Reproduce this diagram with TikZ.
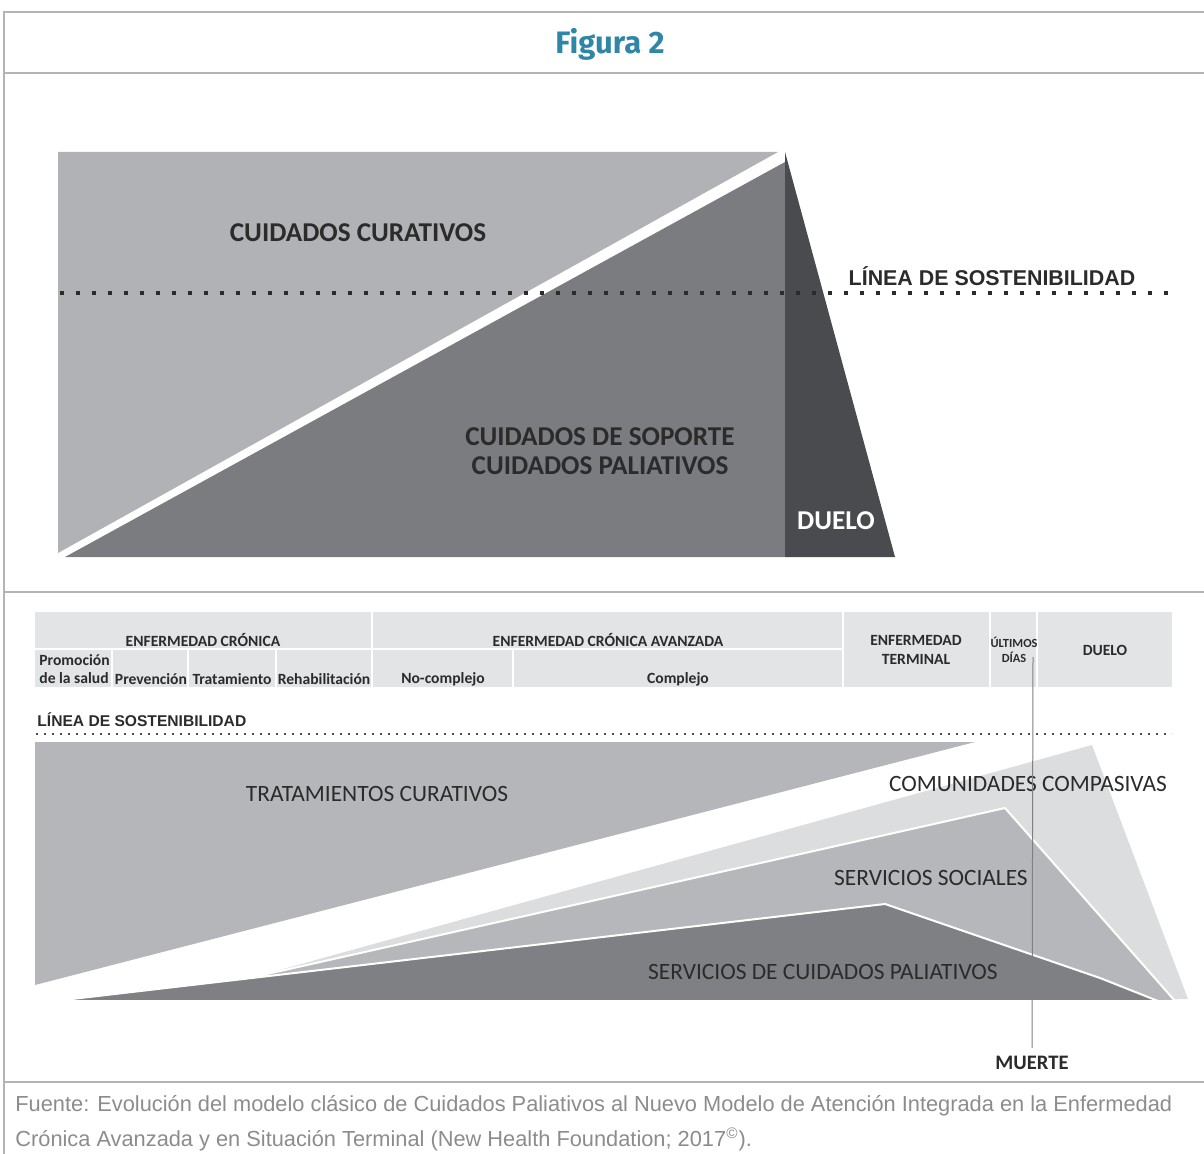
\documentclass[tikz,border=0pt]{standalone}
\usepackage{fontspec}
\setmainfont{Carlito}
\newfontfamily\arialfont{Liberation Sans}
\newfontfamily\titlefont{Fira Sans}
\usepackage{tikz}
\usetikzlibrary{positioning}

\definecolor{framegray}{HTML}{B4B4B4}
\definecolor{titleblue}{HTML}{2F86A6}
\definecolor{curlight}{HTML}{B1B2B5}
\definecolor{soporte}{HTML}{7B7C80}
\definecolor{duelodark}{HTML}{4A4B4E}
\definecolor{headgray}{HTML}{E3E4E6}
\definecolor{tratgray}{HTML}{B5B6B9}
\definecolor{comungray}{HTML}{DCDDDF}
\definecolor{socialgray}{HTML}{B6B7BA}
\definecolor{paliatgray}{HTML}{7F8084}
\definecolor{textdark}{HTML}{2B2B2B}
\definecolor{captiongray}{HTML}{8C8C8C}

\begin{document}
\begin{tikzpicture}[x=0.5pt,y=-0.5pt,
    biglbl/.style={font=\bfseries\fontsize{13.6}{15}\selectfont, text=textdark, inner sep=0pt},
    hdrlbl/.style={font=\bfseries\fontsize{7.8}{9.4}\selectfont, text=textdark, inner sep=0pt, align=center},
    bandlbl/.style={font=\fontsize{11.7}{13}\selectfont, text=textdark, inner sep=0pt},
    sostlbl/.style={font=\arialfont\bfseries, text=textdark, inner sep=0pt},
    cell/.style={white, line width=1pt}]
            \useasboundingbox (0,0) rectangle (1204,1154);

            % Frame
            \draw [framegray, line width=0.8pt] (1204,12) -- (4,12) -- (4,1154);
            \draw [framegray, line width=0.8pt] (4,73) -- (1204,73);
            \draw [framegray, line width=0.8pt] (4,592) -- (1204,592);
            \draw [framegray, line width=0.8pt] (4,1082) -- (1204,1082);
            \node (titulo) at (610,44) {\titlefont\bfseries\fontsize{15.5}{18}\selectfont\color{titleblue}Figura 2};

            % Classic model
            \fill [curlight] (58,152) -- (778,152) -- (58,553) -- cycle;
            \fill [soporte] (65,557) -- (785,162) -- (785,557) -- cycle;
            \fill [duelodark] (785,152) -- (895,557) -- (785,557) -- cycle;
            \draw [textdark, line width=2pt, dash pattern=on 2pt off 6pt] (60,293) -- (1172,293);
            \node [biglbl] (curativos) at (358,233) {CUIDADOS CURATIVOS};
            \node [biglbl, align=center, font=\bfseries\fontsize{13.6}{14.8}\selectfont] (soportelbl) at (600,451) {CUIDADOS DE SOPORTE\\CUIDADOS PALIATIVOS};
            \node [biglbl, text=white] (duelotop) at (836,521) {DUELO};
            \node [sostlbl, font=\arialfont\bfseries\fontsize{10.7}{12}\selectfont] (sosttop) at (992,276) {LÍNEA DE SOSTENIBILIDAD};

            % Header table
            \fill [headgray] (35,612) rectangle (1172,687);
            \foreach \x in {372,843,990,1037}
                \draw [cell] (\x,612) -- (\x,687);
            \draw [cell] (35,649) -- (843,649);
            \foreach \x in {112,188,276,513}
                \draw [cell] (\x,649) -- (\x,687);
            \node [hdrlbl] (cronica) at (203,640) {ENFERMEDAD CRÓNICA};
            \node [hdrlbl] (avanzada) at (608,640) {ENFERMEDAD CRÓNICA AVANZADA};
            \node [hdrlbl] (terminal) at (916,650) {ENFERMEDAD\\TERMINAL};
            \node [hdrlbl, font=\bfseries\fontsize{6.2}{7.2}\selectfont] (ultimos) at (1014,650) {ÚLTIMOS\\DÍAS};
            \node [hdrlbl] (duelohdr) at (1105,650) {DUELO};
            \node [hdrlbl, align=left, anchor=west] (promocion) at (39,669) {Promoción\\de la salud};
            \node [hdrlbl] (prevencion) at (151,679) {Prevención};
            \node [hdrlbl] (tratamiento) at (232,679) {Tratamiento};
            \node [hdrlbl] (rehab) at (324,679) {Rehabilitación};
            \node [hdrlbl] (nocomplejo) at (443,679) {No-complejo};
            \node [hdrlbl] (complejo) at (678,679) {Complejo};

            % Sustainability line
            \node [sostlbl, anchor=west, font=\arialfont\bfseries\fontsize{7.8}{9}\selectfont] (sostbot) at (37,720) {LÍNEA DE SOSTENIBILIDAD};
            \draw [textdark!85, line width=1.2pt, dash pattern=on 1.2pt off 2.8pt] (36,734) -- (1172,734);

            % New model
            \fill [tratgray] (35,742) -- (975,742) -- (35,985) -- cycle;
            \fill [comungray] (258,976) -- (1092,745) -- (1188,999) -- (1100,1001) -- cycle;
            \filldraw [socialgray, draw=white, line width=1pt] (258,976) -- (1005,808) -- (1175,1001) -- (1100,1001) -- cycle;
            \filldraw [paliatgray, draw=white, line width=1pt] (55,1001) -- (885,904) -- (1100,978) -- (1158,1001) -- cycle;
            \node [bandlbl] (tratlbl) at (377,794) {TRATAMIENTOS CURATIVOS};
            \node [bandlbl] (comunlbl) at (1028,784) {COMUNIDADES COMPASIVAS};
            \node [bandlbl] (sociallbl) at (931,878) {SERVICIOS SOCIALES};
            \node [bandlbl] (paliatlbl) at (823,972) {SERVICIOS DE CUIDADOS PALIATIVOS};

            % Death
            \coordinate (muertetop) at (1033,657);
            \node [hdrlbl, font=\bfseries\fontsize{10.3}{12}\selectfont] (muerte) at (1032,1063) {MUERTE};
            \draw [gray, line width=0.5pt] (muertetop) -- ([yshift=4pt]muerte.north);

            % Source
            \node [anchor=west, inner sep=0pt, text=captiongray, font=\arialfont\fontsize{10.9}{17.5}\selectfont, align=left] (fuente) at (15,1123)
                {Fuente: Evolución del modelo clásico de Cuidados Paliativos al Nuevo Modelo de Atención Integrada en la Enfermedad\\Crónica Avanzada y en Situación Terminal (New Health Foundation; 2017\textsuperscript{©}).};
        \end{tikzpicture}
\end{document}
